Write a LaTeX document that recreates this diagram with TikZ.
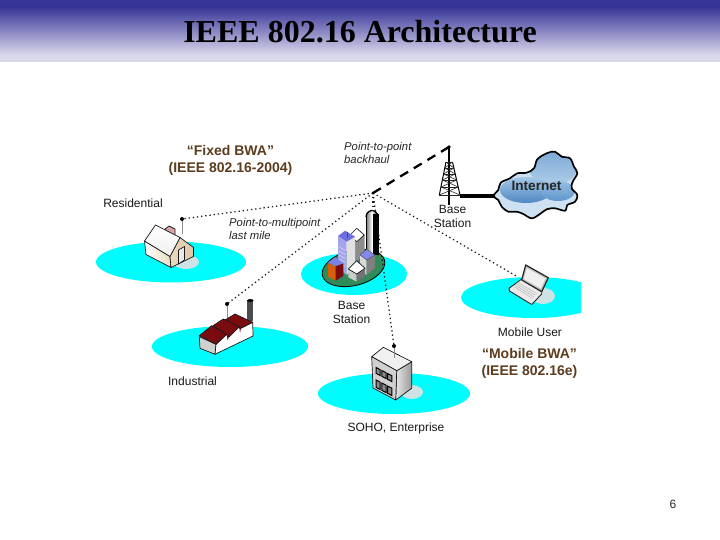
\documentclass[tikz,border=0pt]{standalone}
\usepackage{fontspec}
\setmainfont{Liberation Sans}
\newfontfamily\titlefont{Liberation Serif}
\usetikzlibrary{shapes.geometric,calc}
\definecolor{aqua}{HTML}{00FCFC}
\definecolor{brownlabel}{HTML}{5C3D1E}
\definecolor{roofred}{HTML}{7A0C10}
\definecolor{citygreen}{HTML}{2F8B5A}
\definecolor{shadowgrey}{HTML}{CFE3E6}
\definecolor{creamwall}{HTML}{E9DCC0}
\tikzset{
  island/.style={fill=aqua,draw=none},
  shadowblob/.style={fill=shadowgrey,draw=none},
  plainlabel/.style={font=\fontsize{12}{14}\selectfont,text=black!90,inner sep=0pt,align=center},
  italiclabel/.style={font=\fontsize{11.3}{13}\selectfont\itshape,text=black!85,inner sep=0pt,align=left,anchor=west},
  bwalabel/.style={font=\fontsize{14}{17.5}\selectfont\bfseries,text=brownlabel,inner sep=0pt,align=center},
  link/.style={line width=1.25pt,dash pattern=on 1.3pt off 2.9pt,black!90},
  backhaul/.style={line width=2.3pt,dash pattern=on 9.2pt off 6.7pt,black},
  mast/.style={line width=.6pt,black!45},
  tip/.style={circle,fill=black,inner sep=0pt,minimum size=4pt},
  edge/.style={draw=black!90,line width=.7pt,line join=round},
  lattice/.style={line width=.6pt,black!85}
}
\begin{document}
\begin{tikzpicture}[x=1pt,y=-1pt]
\useasboundingbox (0,0) rectangle (720,540);
\fill[white] (0,0) rectangle (720,540);
% header band
\fill[color={rgb,255:red,56;green,53;blue,153}] (0,0) rectangle (720,7);
\shade[top color={rgb,255:red,56;green,53;blue,153},bottom color={rgb,255:red,218;green,216;blue,235}] (0,7) rectangle (720,55);
\fill[color={rgb,255:red,218;green,216;blue,235}] (0,55) rectangle (720,62);
\node[font=\titlefont\bfseries\fontsize{32}{34}\selectfont,inner sep=0pt,text=black] (title) at (360,32) {IEEE 802.16 Architecture};
\node[font=\fontsize{12}{14}\selectfont,inner sep=0pt,text=black!85] (pagenum) at (673,504) {6};

% islands
\fill[island] (171,262) ellipse [x radius=75,y radius=20.5];
\fill[island] (354,274) ellipse [x radius=53,y radius=21];
\begin{scope}
\clip (440,260) rectangle (581,330);
\fill[island] (533,297.5) ellipse [x radius=72,y radius=20.5];
\end{scope}
\fill[island] (230,346.5) ellipse [x radius=78,y radius=20.5];
\fill[island] (394,393.5) ellipse [x radius=76,y radius=20.5];
% shadows
\fill[shadowblob] (186,262) ellipse [x radius=13,y radius=7];
\fill[shadowblob] (412,392) ellipse [x radius=11,y radius=7];
\fill[shadowblob] (543,296) ellipse [x radius=12,y radius=8];

% named link ends
\coordinate (hub) at (373,193);
\coordinate (towertop) at (449,147);
\coordinate (resant) at (182,219);
\coordinate (indant) at (227,304);
\coordinate (sohoant) at (394,346);
\coordinate (lapant) at (518,277);
\coordinate (cityant) at (373,214);
\coordinate (towerbase) at (460,196);
\coordinate (cloudedge) at (495,196);

% house
\draw[mast] (resant) -- (182,234);
\draw[edge,fill=red!25!white!85!black] (165,229) -- (169,226) -- (175,229) -- (175,235) -- (168,235) -- cycle;
\draw[edge,left color=white,right color=creamwall] (144.5,241) -- (146,254.5) -- (171,267.5) -- (170,256.5) -- cycle;
\draw[edge,left color=creamwall,right color=brown!45!white] (180,237.5) -- (170,256.5) -- (171,267.5) -- (193.5,256.5) -- (193.5,247.5) -- cycle;
\draw[edge,top color=white,bottom color=black!6] (155.5,225) -- (144.5,241) -- (170,256.5) -- (180,237.5) -- cycle;
\draw[edge,fill=white!92!black] (178.5,250) -- (184.5,246.5) -- (184.5,260) -- (178.5,264) -- cycle;

% city
\draw[draw=black,line width=.8pt,fill=citygreen,rotate around={14:(353.5,268)}] (353.5,268) ellipse [x radius=32,y radius=17.5];
% tower of the city
\shade[left color=black!55,right color=black,middle color=white] (366,217) .. controls (366,212.5) and (370,210.5) .. (372,210.5) .. controls (374,210.5) and (378,212.5) .. (378,217) -- (378,255) -- (366,255) -- cycle;
\fill[black] (373,214) rectangle (378.5,255);
\draw[black,line width=.6pt] (366,217) -- (366,255);
\draw[black,line width=1.3pt] (366,217) .. controls (366,212.5) and (370,210.5) .. (372,210.5) .. controls (374,210.5) and (378,212.5) .. (378,217);
% back grey building
\fill[black!45] (355,238) -- (364.5,235) -- (364.5,252) -- (355,265) -- cycle;
\draw[edge,fill=white] (356.7,228.3) -- (364.3,235) -- (356.7,241.7) -- (350,235) -- cycle;
% lavender building
\fill[color={rgb,255:red,165;green,165;blue,235}] (338,236) -- (346.7,241.7) -- (346.7,275) -- (338,268) -- cycle;
\fill[black!12] (346.7,241.7) -- (355,237) -- (355,265) -- (346.7,275) -- cycle;
\fill[color={rgb,255:red,110;green,110;blue,225}] (338,236) -- (345,230.7) -- (355,236.7) -- (346.7,241.7) -- cycle;
\foreach \ya in {247,251,255,259,263}{\draw[white!80!blue,line width=.7pt] (339,\ya) -- (345.5,\ya+3.5);}
\draw[black!70,line width=.6pt] (347,232) -- (347,238);
% orange building
\fill[color={rgb,255:red,214;green,96;blue,8}] (327.7,263.3) -- (328.3,277.3) -- (335.7,280.7) -- (335.7,266) -- cycle;
\fill[roofred] (335.7,266) -- (343.3,263.3) -- (343.3,276) -- (335.7,280.7) -- cycle;
\fill[color={rgb,255:red,120;green,130;blue,230}] (328,262.7) -- (335,257.3) -- (343.3,263.3) -- (335.7,266) -- cycle;
% small blue topped
\fill[black!15] (360,255) -- (366.7,260) -- (366.7,275) -- (360,270) -- cycle;
\fill[black!50] (366.7,260) -- (375,255) -- (375,268) -- (366.7,275) -- cycle;
\fill[color={rgb,255:red,130;green,135;blue,235},draw=black!70,line width=.4pt] (360,255) -- (366.7,249.3) -- (375,255) -- (366.7,260) -- cycle;
% front white topped
\fill[black!20] (348.3,269) -- (356.7,274) -- (356.7,281.7) -- (348.3,277.3) -- cycle;
\fill[black!55] (356.7,274) -- (365,268.3) -- (365,276.7) -- (356.7,281.7) -- cycle;
\draw[edge,fill=white] (348.3,269) -- (356.7,260.7) -- (365,268.3) -- (356.7,274) -- cycle;

% factory
\draw[mast] (indant) -- (227,318);
\fill[black!70] (247.3,300) rectangle (253.3,321);
\fill[black] (250.3,300.5) ellipse [x radius=3.2,y radius=1.4];
\draw[edge,fill=black!18] (199.3,336.7) -- (200,348.3) -- (215,354.3) -- (216,344.3) -- cycle;
\draw[edge,fill=white] (216,344.3) -- (226.7,334.3) -- (229.3,336.7) -- (239.3,326.7) -- (241,328.3) -- (252.7,322.3) -- (253,336) -- (215,354.3) -- cycle;
\fill[roofred] (226.7,334.3) -- (229.3,336.7) -- (227.5,340) -- cycle;
\fill[roofred] (239.3,326.7) -- (241,328.3) -- (240,333) -- cycle;
\draw[edge,fill=roofred] (235,314) -- (225,320) -- (240,328.3) -- (252.7,322.3) -- cycle;
\draw[edge,fill=roofred] (223.3,319) -- (213,325.7) -- (229.3,336.7) -- (239.3,326.7) -- cycle;
\draw[edge,fill=roofred] (211.7,325.7) -- (199.3,335.7) -- (216,344.3) -- (226.7,334.3) -- cycle;

% office
\draw[edge,left color=black!10,right color=black!40] (396.7,370.7) -- (395.7,400) -- (411.7,388.3) -- (411.7,361.7) -- cycle;
\draw[edge,fill=black!6] (371.7,356.7) -- (383.3,347.3) -- (411.7,361.7) -- (396.7,370.7) -- cycle;
\draw[edge,fill=black!18] (371.7,356.7) -- (373,388) -- (395.7,400) -- (396.7,370.7) -- cycle;
\foreach \xa/\ya in {376/367.5,381.8/370.5,387.6/373.5}{
  \draw[black,line width=1pt,fill=black!45] (\xa,\ya) -- (\xa+4.2,\ya+2.2) -- (\xa+4.2,\ya+8) -- (\xa,\ya+5.8) -- cycle;
  \draw[black,line width=1pt,fill=black!45] (\xa,\ya+12.5) -- (\xa+4.2,\ya+14.7) -- (\xa+4.2,\ya+22) -- (\xa,\ya+19.8) -- cycle;
}
\draw[mast] (sohoant) -- (394,358);

% laptop
\draw[draw=black!85,line width=.9pt,fill=white!92!black,line join=round] (521.7,279) -- (509,288.3) -- (509.5,291) -- (531.7,304.5) -- (541.7,294) -- (541.7,291.7) -- cycle;
\foreach \ta in {.2,.4,.6,.8}{\draw[black!28,line width=.5pt] ($(519,281)!\ta!(513,288)$) -- ($(538,292)!\ta!(531,300)$);}
\draw[draw=black!85,line width=1.2pt,fill=black!25,line join=round] (525.7,265) -- (548.3,277.7) -- (541.7,291.7) -- (521.7,280) -- cycle;
\fill[black!6] (526.8,268) -- (545.5,278.5) -- (540.7,288.5) -- (523.8,279) -- cycle;

% base-station tower
\draw[line width=1.1pt,black] (towertop) -- (449,205);
\fill[black] (towertop) circle (1.8);
\draw[line width=1pt,black] (446,162) -- (439.3,195) (452.5,162) -- (460,195);
\foreach \ya in {162,168,174,180,187,195}{
  \draw[lattice] ({446-(\ya-162)*.2},\ya) -- ({452.5+(\ya-162)*.227},\ya);
}
\foreach \ya/\yb in {162/168,168/174,174/180,180/187,187/195}{
  \draw[lattice] ({446-(\ya-162)*.2},\ya) -- ({452.5+(\yb-162)*.227},\yb);
  \draw[lattice] ({452.5+(\ya-162)*.227},\ya) -- ({446-(\yb-162)*.2},\yb);
}

% cloud
\begin{scope}
\clip plot[smooth cycle,tension=.6] coordinates {(493.3,196) (498.3,190) (500.7,182.7) (510,178.3) (517.3,173.3) (526.7,172.7) (534,168.3) (537.3,159.3) (546.7,153.3) (555,151.7) (561.7,156.7) (570,158.3) (574,166.7) (577.3,173.3) (572.7,181.7) (571.7,188.3) (577.3,195) (575,201.7) (567.3,205) (565,210.7) (555,208.3) (546.7,209.3) (540,214) (531.7,218.3) (523.3,214) (516.7,211.7) (508.3,211.7) (501.7,206.7) (498.3,200)};
\fill[color={rgb,255:red,205;green,225;blue,242}] (490,150) rectangle (580,220);
\shade[top color={rgb,255:red,125;green,170;blue,215},bottom color={rgb,255:red,175;green,205;blue,232}] (553,168) ellipse [x radius=24,y radius=17];
\shade[top color={rgb,255:red,165;green,200;blue,230},bottom color={rgb,255:red,80;green,135;blue,195}] (526,190) ellipse [x radius=26,y radius=13];
\shade[top color={rgb,255:red,150;green,190;blue,225},bottom color={rgb,255:red,95;green,150;blue,205}] (558,191) ellipse [x radius=17,y radius=10];
\end{scope}
\draw[black,line width=1.7pt,line join=round] plot[smooth cycle,tension=.6] coordinates {(493.3,196) (498.3,190) (500.7,182.7) (510,178.3) (517.3,173.3) (526.7,172.7) (534,168.3) (537.3,159.3) (546.7,153.3) (555,151.7) (561.7,156.7) (570,158.3) (574,166.7) (577.3,173.3) (572.7,181.7) (571.7,188.3) (577.3,195) (575,201.7) (567.3,205) (565,210.7) (555,208.3) (546.7,209.3) (540,214) (531.7,218.3) (523.3,214) (516.7,211.7) (508.3,211.7) (501.7,206.7) (498.3,200)};
\draw[black,line width=4pt] (towerbase) -- (cloudedge);
\node[font=\fontsize{13.6}{15}\selectfont\bfseries,text=black!85,inner sep=0pt] (internet) at (536.5,186) {Internet};

% links
\draw[backhaul] (hub) -- (towertop);
\draw[link] (hub) -- (resant);
\draw[link] (hub) -- (indant);
\draw[link] (hub) -- (sohoant);
\draw[link] (hub) -- (lapant);
\draw[link] (hub) -- (cityant);
\node[tip] (restip) at (resant) {};
\node[tip] (indtip) at (indant) {};
\node[tip] (sohotip) at (sohoant) {};
\node[tip,minimum size=3pt] (hubtip) at (hub) {};

% labels
\node[bwalabel] (fixed) at (230.5,160.5) {“Fixed BWA”\\(IEEE 802.16-2004)};
\node[bwalabel] (mobile) at (529.5,363.5) {“Mobile BWA”\\(IEEE 802.16e)};
\node[italiclabel] (ptp) at (344,152.5) {Point-to-point\\backhaul};
\node[italiclabel] (ptm) at (229,228.5) {Point-to-multipoint\\last mile};
\node[plainlabel] (residential) at (133,203.5) {Residential};
\node[plainlabel] (basea) at (452.5,216.5) {Base\\Station};
\node[plainlabel] (baseb) at (351.5,312) {Base\\Station};
\node[plainlabel] (mobileuser) at (530,332) {Mobile User};
\node[plainlabel] (industrial) at (192.5,381) {Industrial};
\node[plainlabel] (soho) at (396,428) {SOHO, Enterprise};
\end{tikzpicture}
\end{document}
